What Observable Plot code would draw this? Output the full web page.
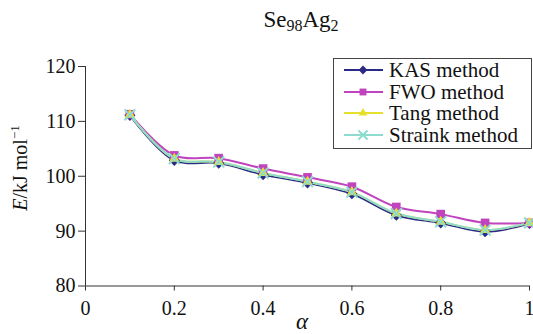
<!DOCTYPE html>
<html>
<head>
<meta charset="utf-8">
<script src="https://cdn.jsdelivr.net/npm/d3@7"></script>
<script src="https://cdn.jsdelivr.net/npm/@observablehq/plot@0.6"></script>
<style>
  body { margin: 0; background: #fff; font-family: 'Liberation Serif', 'Times New Roman', serif; }
  #wrap { position: relative; width: 533px; height: 334px; overflow: hidden; }
  #title { position: absolute; left: 0; width: 602px; top: 7px; text-align: center; font-size: 23px; line-height: 26px; color: #111; }
  #title sub { font-size: 16px; vertical-align: -4px; line-height: 0; }
  #ylab { position: absolute; left: 20px; top: 168px; transform: translate(-50%, -50%) rotate(-90deg); white-space: nowrap; font-size: 20px; color: #111; }
  #ylab sup { font-size: 13px; vertical-align: 8px; line-height: 0; }
  #xlab { position: absolute; left: 302px; top: 310px; transform: translateX(-50%); font-size: 23px; line-height: 24px; font-style: italic; color: #111; }
  #legend { position: absolute; left: 333px; top: 58px; width: 197px; height: 89px; border: 1px solid #444; background: #fff; }
  .row { position: absolute; left: 9px; height: 20px; line-height: 20px; display: flex; align-items: center; font-size: 18.5px; color: #111; white-space: nowrap; }
  .row svg { margin-right: 5px; flex: none; }
  .row span { display: inline-block; transform: scale(1.135, 1.12); transform-origin: left center; }
</style>
</head>
<body>
<div id="wrap">
  <div id="chart"></div>
  <div id="title">Se<sub>98</sub>Ag<sub>2</sub></div>
  <div id="ylab"><i>E</i>/kJ mol<sup>−1</sup></div>
  <div id="xlab">α</div>
  <div id="legend"></div>
</div>
<script>
const alpha = [0.1, 0.2, 0.3, 0.4, 0.5, 0.6, 0.7, 0.8, 0.9, 1.0];
const kas     = [111.1, 102.9, 102.4, 100.3, 98.8, 96.8, 92.9, 91.5, 89.9, 91.4];
const fwo     = [111.3, 103.8, 103.3, 101.4, 99.8, 98.1, 94.4, 93.1, 91.5, 91.5];
const tang    = [111.2, 103.2, 102.6, 100.6, 99.0, 97.1, 93.2, 91.7, 90.2, 91.5];
const straink = [111.2, 103.2, 102.6, 100.6, 99.0, 97.1, 93.2, 91.7, 90.2, 91.5];
const seriesNames = ["KAS method", "FWO method", "Tang method", "Straink method"];
const seriesValues = [kas, fwo, tang, straink];
const colors = ["#2b2a86", "#c044be", "#e6e02c", "#8edcd0"];
const symbols = ["diamond2", "square2", "triangle2", "times"];
const xTicks = [0, 0.2, 0.4, 0.6, 0.8, 1];
const yTicks = [80, 90, 100, 110, 120];

const rows = [];
seriesNames.forEach((name, i) => {
  alpha.forEach((a, j) => rows.push({series: name, alpha: a, E: seriesValues[i][j]}));
});

const marks = [
  Plot.ruleX([0], {y1: 80, y2: 120, stroke: "#333", strokeWidth: 1}),
  Plot.ruleY([80], {x1: 0, x2: 1, stroke: "#333", strokeWidth: 1}),
  Plot.axisY(yTicks, {anchor: "left", tickSize: 7, tickPadding: 3, fontSize: 20, label: null, stroke: "#333"}),
  Plot.axisX(xTicks, {anchor: "bottom", tickSize: 5, tickPadding: 10, fontSize: 20, label: null, stroke: "#333",
    tickFormat: d => d === 0 || d === 1 ? String(d) : d.toFixed(1)})
];
seriesNames.forEach((name, i) => {
  const data = rows.filter(r => r.series === name);
  marks.push(Plot.line(data, {x: "alpha", y: "E", stroke: colors[i], strokeWidth: 2, curve: "catmull-rom"}));
});
seriesNames.forEach((name, i) => {
  const data = rows.filter(r => r.series === name);
  if (symbols[i] === "times") {
    marks.push(Plot.dot(data, {x: "alpha", y: "E", symbol: symbols[i], stroke: colors[i], strokeWidth: 2, r: 5}));
  } else {
    marks.push(Plot.dot(data, {x: "alpha", y: "E", symbol: symbols[i], fill: colors[i], stroke: "none", r: symbols[i] === "square2" ? 5.5 : 5}));
  }
});

const chart = Plot.plot({
  width: 533,
  height: 334,
  marginLeft: 85,
  marginRight: 4,
  marginTop: 66,
  marginBottom: 48.5,
  style: {fontFamily: "'Liberation Serif', 'Times New Roman', serif", color: "#111", background: "#fff", overflow: "visible"},
  x: {domain: [0, 1]},
  y: {domain: [80, 120]},
  marks
});
document.getElementById("chart").appendChild(chart);

// legend
const legend = document.getElementById("legend");
const rowTops = [1, 23, 44, 66];
const symPaths = {
  diamond2: d3.symbol(d3.symbolDiamond2, 50)(),
  square2: d3.symbol(d3.symbolSquare2, 60)(),
  triangle2: d3.symbol(d3.symbolTriangle2, 55)(),
  times: d3.symbol(d3.symbolTimes, 55)()
};
seriesNames.forEach((name, i) => {
  const row = document.createElement("div");
  row.className = "row";
  row.style.top = rowTops[i] + "px";
  const sym = symbols[i] === "times"
    ? `<path d="${symPaths.times}" transform="translate(20,10)" fill="none" stroke="${colors[i]}" stroke-width="2"/>`
    : `<path d="${symPaths[symbols[i]]}" transform="translate(20,10)" fill="${colors[i]}"/>`;
  row.innerHTML = `<svg width="41" height="20"><line x1="1" x2="40" y1="10" y2="10" stroke="${colors[i]}" stroke-width="2"/>${sym}</svg><span>${name}</span>`;
  legend.appendChild(row);
});
</script>
</body>
</html>
